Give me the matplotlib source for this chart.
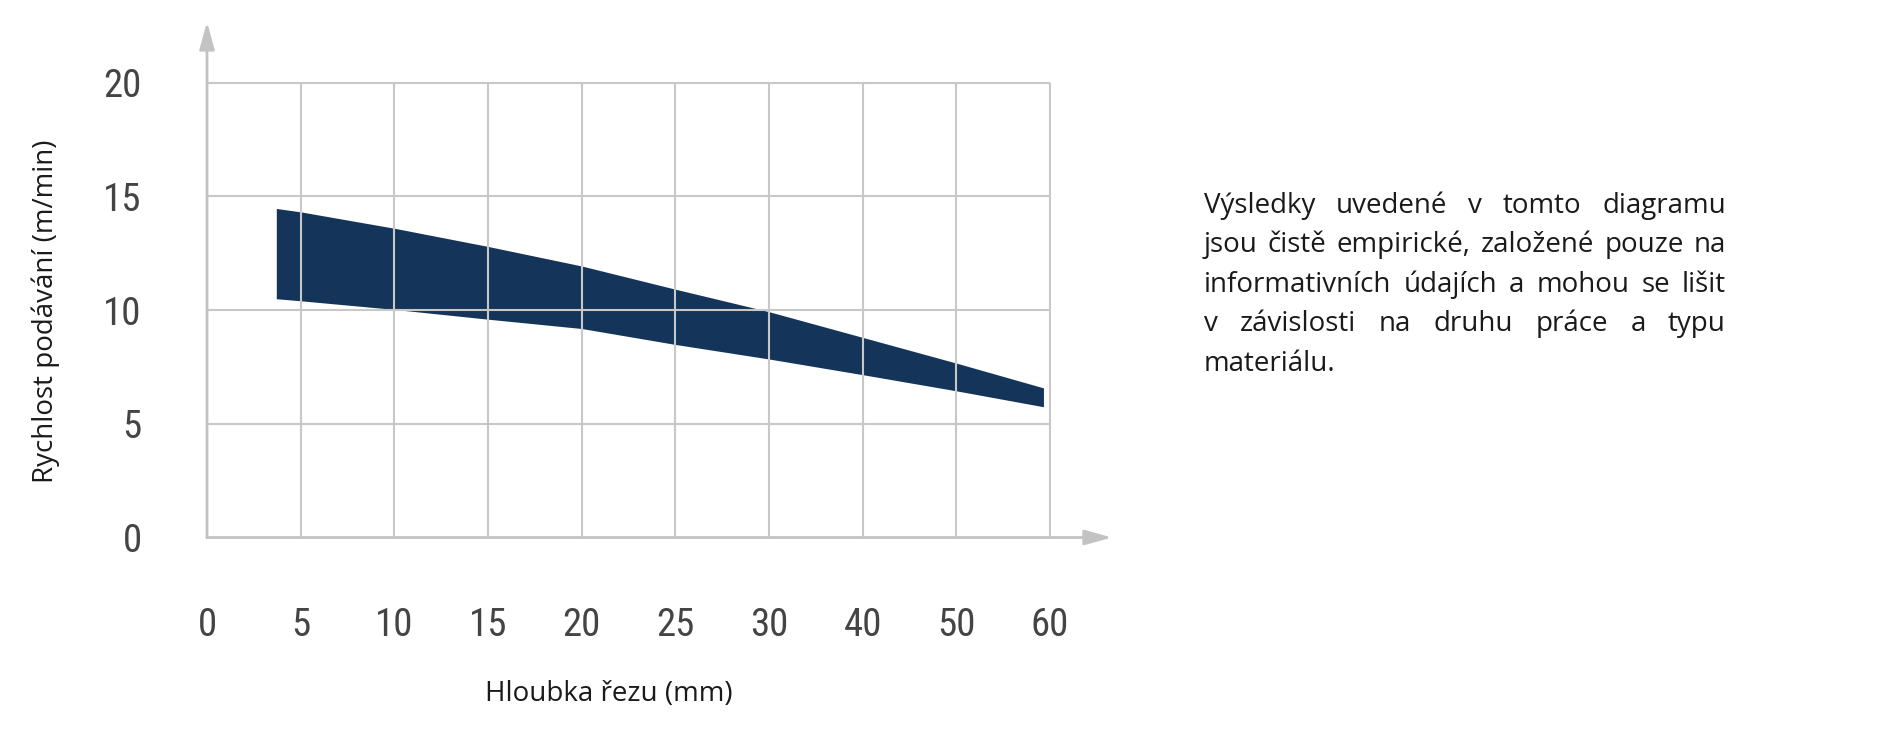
import numpy as np
import matplotlib
matplotlib.use("Agg")
import matplotlib.pyplot as plt
from matplotlib import font_manager

# data
depth_ticks = [0, 5, 10, 15, 20, 25, 30, 40, 50, 60]
y_ticks = [0, 5, 10, 15, 20]
depth = [3.7, 5, 10, 15, 20, 25, 30, 40, 50, 59.3]
feed_upper = [14.47, 14.32, 13.6, 12.8, 11.94, 10.92, 9.93, 8.80, 7.67, 6.58]
feed_lower = [10.5, 10.41, 10.03, 9.6, 9.19, 8.49, 7.85, 7.16, 6.45, 5.75]

x_label = "Hloubka řezu (mm)"
y_label = "Rychlost podávání (m/min)"
note_lines = [
    "Výsledky uvedené v tomto diagramu",
    "jsou čistě empirické, založené pouze na",
    "informativních údajích a mohou se lišit",
    "v závislosti na druhu práce a typu",
    "materiálu.",
]

names = {f.name for f in font_manager.fontManager.ttflist}
tick_font = next((n for n in ["Liberation Sans Narrow", "Roboto Condensed", "Roboto"] if n in names), "DejaVu Sans")
text_font = "Open Sans" if "Open Sans" in names else "DejaVu Sans"
text_size = 20

W, H = 1886, 753
fig = plt.figure(figsize=(W / 100, H / 100), dpi=100)

# axes box in pixels: x 207..1050, y 82.7..537.5
ax = fig.add_axes([207 / W, 1 - 537.5 / H, (1050 - 207) / W, (537.5 - 82.7) / H])
ax.set_xlim(0, len(depth_ticks) - 1)
ax.set_ylim(0, 20)

grid_c = "#c8c8c8"
pos = np.arange(len(depth_ticks))
xs = np.interp(depth, depth_ticks, pos)

ax.fill_between(xs, feed_lower, feed_upper, color="#143559", lw=0, zorder=1)

ax.vlines(pos[1:], 0, 20, colors=grid_c, lw=1.5, zorder=2, clip_on=False)
ax.hlines(y_ticks[1:], 0, pos[-1], colors=grid_c, lw=1.5, zorder=2, clip_on=False)

for s in ax.spines.values():
    s.set_visible(False)

arrow_c = "#c3c3c3"
ax.annotate("", xy=(0, 1.1335), xytext=(0, 0), xycoords="axes fraction",
            arrowprops=dict(arrowstyle="-|>,head_length=0.83,head_width=0.23",
                            color=arrow_c, lw=2, mutation_scale=20,
                            shrinkA=0, shrinkB=0), zorder=3)
ax.annotate("", xy=(1.0735, 0), xytext=(0, 0), xycoords="axes fraction",
            arrowprops=dict(arrowstyle="-|>,head_length=0.83,head_width=0.23",
                            color=arrow_c, lw=2, mutation_scale=20,
                            shrinkA=0, shrinkB=0), zorder=3)

ax.set_xticks(pos)
ax.set_xticklabels([str(v) for v in depth_ticks])
ax.set_yticks(y_ticks)
ax.set_yticklabels([str(v) for v in y_ticks])
ax.tick_params(axis="both", length=0, labelsize=28, labelcolor="#444444")
ax.tick_params(axis="x", pad=50)
ax.tick_params(axis="y", pad=47)
for lab in ax.get_xticklabels() + ax.get_yticklabels():
    lab.set_fontfamily(tick_font)

fig.text(46 / W, 1 - 311 / H, y_label, rotation=90, ha="center", va="center",
         fontsize=text_size, family=text_font, color="#1a1a1a")
fig.text(609 / W, 1 - 694 / H, x_label, ha="center", va="center",
         fontsize=text_size, family=text_font, color="#1a1a1a")

# justified paragraph on the right
left, right = 1204, 1726
base0, step = 213, 39.4
renderer = fig.canvas.get_renderer()
for i, line in enumerate(note_lines):
    words = line.split()
    y = 1 - (base0 + i * step) / H
    if i == len(note_lines) - 1:
        fig.text(left / W, y, line, ha="left", va="baseline", fontsize=text_size,
                 family=text_font, color="#1a1a1a")
        continue
    arts = [fig.text(0, y, w, ha="left", va="baseline", fontsize=text_size,
                     family=text_font, color="#1a1a1a") for w in words]
    widths = [a.get_window_extent(renderer).width for a in arts]
    gap = (right - left - sum(widths)) / (len(words) - 1)
    x = left
    for a, w in zip(arts, widths):
        a.set_x(x / W)
        x += w + gap

fig.savefig("out.png", dpi=100)
